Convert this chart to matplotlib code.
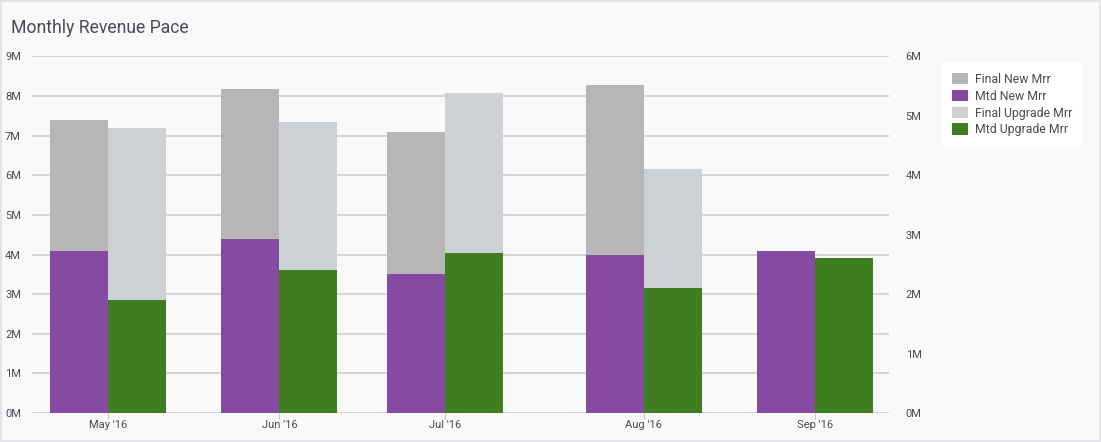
import matplotlib.pyplot as plt
from matplotlib.patches import Rectangle

# data (values in millions)
months = ["May '16", "Jun '16", "Jul '16", "Aug '16", "Sep '16"]
month_day = [0, 31, 61, 97, 128]  # days from May 1 where each month group sits
final_new = [7.4, 8.18, 7.09, 8.29, 0]
mtd_new = [4.09, 4.39, 3.50, 4.00, 4.10]
final_upgrade = [4.79, 4.89, 5.39, 4.10, 0]
mtd_upgrade = [1.90, 2.40, 2.69, 2.10, 2.60]

c_final_new = '#b6b6b6'
c_mtd_new = '#874aa2'
c_final_up = '#cdd0d4'
c_mtd_up = '#3e7e21'
txt = '#4a4a55'

plt.rcParams['font.family'] = ['Roboto', 'DejaVu Sans']

fig = plt.figure(figsize=(11.01, 4.42), dpi=100)
fig.patch.set_facecolor('#f9f9f9')
fig.patches.append(Rectangle((0, 0), 1, 1, transform=fig.transFigure, fill=False,
                             edgecolor='#e3e5e8', linewidth=3))

ax = fig.add_axes([0.0291, 0.0656, 0.7783, 0.8068])
ax2 = ax.twinx()
ax.set_facecolor('none')

w = 10.5
left = [d - w / 2 for d in month_day]
right = [d + w / 2 for d in month_day]

b1 = ax.bar(left, final_new, width=w, color=c_final_new, linewidth=0, label='Final New Mrr', zorder=2)
b2 = ax.bar(left, mtd_new, width=w, color=c_mtd_new, linewidth=0, label='Mtd New Mrr', zorder=3)
b3 = ax2.bar(right, final_upgrade, width=w, color=c_final_up, linewidth=0, label='Final Upgrade Mrr', zorder=2)
b4 = ax2.bar(right, mtd_upgrade, width=w, color=c_mtd_up, linewidth=0, label='Mtd Upgrade Mrr', zorder=3)

ax.set_xlim(-13.8, 141.4)
ax.set_ylim(0, 9)
ax2.set_ylim(0, 6)
ax.set_yticks(range(0, 10))
ax.set_yticklabels(['%dM' % v for v in range(0, 10)])
ax2.set_yticks(range(0, 7))
ax2.set_yticklabels(['%dM' % v for v in range(0, 7)])
ax.set_xticks(month_day)
ax.set_xticklabels(months)

ax.yaxis.grid(True, color='#cbcbcb', linewidth=1.1, zorder=0)
ax.set_axisbelow(True)
for a in (ax, ax2):
    for s in a.spines.values():
        s.set_visible(False)
ax.tick_params(axis='y', length=0, pad=8, labelsize=8, labelcolor=txt)
ax2.tick_params(axis='y', length=0, pad=12, labelsize=8, labelcolor=txt)
ax.tick_params(axis='x', length=4, width=0.8, color='#c8c8c8', pad=1, labelsize=8, labelcolor=txt)

fig.text(0.010, 0.937, 'Monthly Revenue Pace', fontsize=12.7, color=txt, va='center', ha='left')

leg = fig.legend(handles=[b1, b2, b3, b4], loc='upper left', bbox_to_anchor=(0.8495, 0.873),
                 frameon=True, fancybox=True, facecolor='white', edgecolor='none', framealpha=1,
                 fontsize=8.8, labelcolor=txt, handlelength=1.3, handleheight=1.1,
                 handletextpad=0.6, labelspacing=0.32, borderpad=0.85)

fig.savefig('out.png', dpi=100, facecolor=fig.get_facecolor())
